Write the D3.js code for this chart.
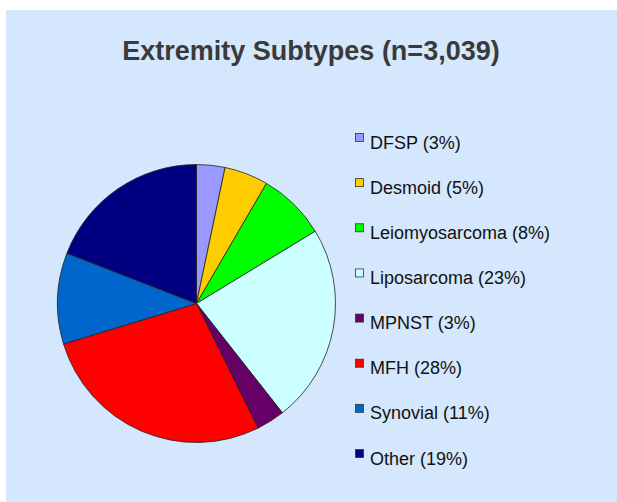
<!DOCTYPE html>
<html><head><meta charset="utf-8">
<script src="https://cdn.jsdelivr.net/npm/d3@7"></script>
<style>html,body{margin:0;padding:0;background:#fff;}svg{display:block;}</style>
</head><body>
<script>
const categories = ["DFSP", "Desmoid", "Leiomyosarcoma", "Liposarcoma", "MPNST", "MFH", "Synovial", "Other"];
// slice shares (unrounded)
const shares = [3.3, 5.1, 7.9, 23.1, 3.3, 27.6, 10.6, 19.1];
// percentages printed in the legend
const labelPct = [3, 5, 8, 23, 3, 28, 11, 19];
const colors = ["#9999FF", "#FFCC00", "#00FF00", "#CCFFFF", "#660066", "#FF0000", "#0066CC", "#000080"];
const title = "Extremity Subtypes (n=3,039)";

const W = 617, H = 502;
const svg = d3.select("body").append("svg").attr("width", W).attr("height", H);
svg.append("rect").attr("x", 6).attr("y", 10).attr("width", W - 6).attr("height", H - 10).attr("fill", "#D4E7FC");

svg.append("text").attr("x", 311).attr("y", 60).attr("text-anchor", "middle")
  .attr("font-family", "Liberation Sans, Arial, sans-serif").attr("font-weight", "bold")
  .attr("font-size", 27).attr("fill", "#3a3a3a").text(title);

const data = categories.map((c, i) => ({name: c, value: shares[i], pct: labelPct[i], color: colors[i]}));
const pie = d3.pie().value(d => d.value).sort(null);
const arc = d3.arc().innerRadius(0).outerRadius(139);
const g = svg.append("g").attr("transform", "translate(196.5,303.5)");
g.selectAll("path").data(pie(data)).join("path")
  .attr("d", arc).attr("fill", d => d.data.color)
  .attr("stroke", "#222").attr("stroke-width", 0.8).attr("stroke-linejoin", "round");

const y = d3.scalePoint().domain(categories).range([142, 458]);
const leg = svg.append("g");
const items = leg.selectAll("g").data(data).join("g")
  .attr("transform", d => `translate(355,${y(d.name)})`);
items.append("rect").attr("x", 0.5).attr("y", -8.5).attr("width", 8).attr("height", 8)
  .attr("fill", d => d.color).attr("stroke", "#333").attr("stroke-width", 0.8);
items.append("text").attr("x", 15).attr("y", 6.5)
  .attr("font-family", "Liberation Sans, Arial, sans-serif").attr("font-size", 18)
  .attr("fill", "#111").text(d => `${d.name} (${d.pct}%)`);
</script>
</body></html>
